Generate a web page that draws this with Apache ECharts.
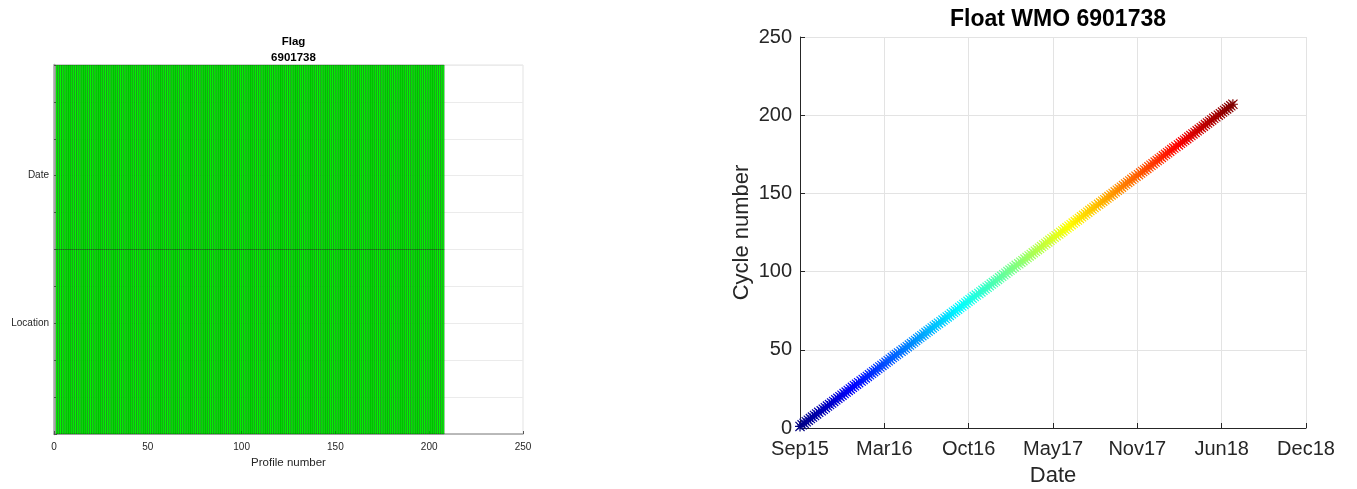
<!DOCTYPE html>
<html>
<head>
<meta charset="utf-8">
<script src="https://cdn.jsdelivr.net/npm/echarts@6/dist/echarts.min.js"></script>
<style>
  html, body { margin: 0; padding: 0; background: #ffffff; }
  #chart { width: 1357px; height: 489px; }
</style>
</head>
<body>
<div id="chart"></div>
<script>
// Float identifier
const floatWmo = '6901738';

// Cycle (profile) numbers of the float
const cycleNumbers = [
  1, 2, 3, 4, 5, 6, 7, 8, 9, 10, 11, 12, 13, 14, 15, 16, 17, 18, 19, 20,
  21, 22, 23, 24, 25, 26, 27, 28, 29, 30, 31, 32, 33, 34, 35, 36, 37, 38, 39, 40,
  41, 42, 43, 44, 45, 46, 47, 48, 49, 50, 51, 52, 53, 54, 55, 56, 57, 58, 59, 60,
  61, 62, 63, 64, 65, 66, 67, 68, 69, 70, 71, 72, 73, 74, 75, 76, 77, 78, 79, 80,
  81, 82, 83, 84, 85, 86, 87, 88, 89, 90, 91, 92, 93, 94, 95, 96, 97, 98, 99, 100,
  101, 102, 103, 104, 105, 106, 107, 108, 109, 110, 111, 112, 113, 114, 115, 116, 117, 118, 119, 120,
  121, 122, 123, 124, 125, 126, 127, 128, 129, 130, 131, 132, 133, 134, 135, 136, 137, 138, 139, 140,
  141, 142, 143, 144, 145, 146, 147, 148, 149, 150, 151, 152, 153, 154, 155, 156, 157, 158, 159, 160,
  161, 162, 163, 164, 165, 166, 167, 168, 169, 170, 171, 172, 173, 174, 175, 176, 177, 178, 179, 180,
  181, 182, 183, 184, 185, 186, 187, 188, 189, 190, 191, 192, 193, 194, 195, 196, 197, 198, 199, 200,
  201, 202, 203, 204, 205, 206, 207
];

// Profile dates, in days since 1 Sep 2015
const profileDays = [
  0, 5, 10, 15, 20, 25, 30, 35, 40, 45, 51, 56, 61, 66, 71, 76, 81, 86, 91, 96,
  101, 106, 111, 116, 121, 126, 131, 136, 141, 147, 152, 157, 162, 167, 172, 177, 182, 187, 192, 197,
  202, 207, 212, 217, 222, 227, 232, 237, 243, 248, 253, 258, 263, 268, 273, 278, 283, 288, 293, 298,
  303, 308, 313, 318, 323, 328, 333, 339, 344, 349, 354, 359, 364, 369, 374, 379, 384, 389, 394, 399,
  404, 409, 414, 419, 424, 430, 435, 440, 445, 450, 455, 460, 465, 470, 475, 480, 485, 490, 495, 500,
  505, 510, 515, 520, 526, 531, 536, 541, 546, 551, 556, 561, 566, 571, 576, 581, 586, 591, 596, 601,
  606, 611, 616, 622, 627, 632, 637, 642, 647, 652, 657, 662, 667, 672, 677, 682, 687, 692, 697, 702,
  707, 712, 718, 723, 728, 733, 738, 743, 748, 753, 758, 763, 768, 773, 778, 783, 788, 793, 798, 803,
  808, 814, 819, 824, 829, 834, 839, 844, 849, 854, 859, 864, 869, 874, 879, 884, 889, 894, 899, 904,
  910, 915, 920, 925, 930, 935, 940, 945, 950, 955, 960, 965, 970, 975, 980, 985, 990, 995, 1000, 1006,
  1011, 1016, 1021, 1026, 1031, 1036, 1041
];

// QC flags per profile (1 = good)
const dateFlags = [
  1,1,1,1,1,1,1,1,1,1,1,1,1,1,1,1,1,1,1,1, 1,1,1,1,1,1,1,1,1,1,1,1,1,1,1,1,1,1,1,1,
  1,1,1,1,1,1,1,1,1,1,1,1,1,1,1,1,1,1,1,1, 1,1,1,1,1,1,1,1,1,1,1,1,1,1,1,1,1,1,1,1,
  1,1,1,1,1,1,1,1,1,1,1,1,1,1,1,1,1,1,1,1, 1,1,1,1,1,1,1,1,1,1,1,1,1,1,1,1,1,1,1,1,
  1,1,1,1,1,1,1,1,1,1,1,1,1,1,1,1,1,1,1,1, 1,1,1,1,1,1,1,1,1,1,1,1,1,1,1,1,1,1,1,1,
  1,1,1,1,1,1,1,1,1,1,1,1,1,1,1,1,1,1,1,1, 1,1,1,1,1,1,1,1,1,1,1,1,1,1,1,1,1,1,1,1,
  1,1,1,1,1,1,1
];
const locationFlags = [
  1,1,1,1,1,1,1,1,1,1,1,1,1,1,1,1,1,1,1,1, 1,1,1,1,1,1,1,1,1,1,1,1,1,1,1,1,1,1,1,1,
  1,1,1,1,1,1,1,1,1,1,1,1,1,1,1,1,1,1,1,1, 1,1,1,1,1,1,1,1,1,1,1,1,1,1,1,1,1,1,1,1,
  1,1,1,1,1,1,1,1,1,1,1,1,1,1,1,1,1,1,1,1, 1,1,1,1,1,1,1,1,1,1,1,1,1,1,1,1,1,1,1,1,
  1,1,1,1,1,1,1,1,1,1,1,1,1,1,1,1,1,1,1,1, 1,1,1,1,1,1,1,1,1,1,1,1,1,1,1,1,1,1,1,1,
  1,1,1,1,1,1,1,1,1,1,1,1,1,1,1,1,1,1,1,1, 1,1,1,1,1,1,1,1,1,1,1,1,1,1,1,1,1,1,1,1,
  1,1,1,1,1,1,1
];

// Row names of the flag matrix and the date tick labels
const flagRowNames = ['Date', 'Location'];
const dateTickLabels = ['Sep15', 'Mar16', 'Oct16', 'May17', 'Nov17', 'Jun18', 'Dec18'];

// ---- scale / styling constants ----
const dateTickStep = 202.8;            // days between date ticks
const rowEdges = [0, 5, 10];           // flag-row extent on the row axis
const rowLabelPos = [3, 7];            // where the row names sit
const flagColors = { 1: '#00ff00', 2: '#ffff00', 3: '#ff8000', 4: '#ff0000' };
const jet = ['#000080', '#0000ff', '#0080ff', '#00ffff', '#80ff80',
             '#ffff00', '#ff8000', '#ff0000', '#800000'];
// MATLAB-style '*' marker: plus and cross overlaid
const asterisk = 'path://M8.8,0H11.2V20H8.8Z M0,8.8H20V11.2H0Z ' +
  'M0,1.7L1.7,0L20,18.3L18.3,20Z M18.3,0L20,1.7L1.7,20L0,18.3Z';
const FONT = "'Liberation Sans', Arial, Helvetica, sans-serif";
const INK = '#262626';

// Flag cells: one per profile and row
const flagCells = [];
cycleNumbers.forEach((c, i) => {
  flagCells.push([c, 0, dateFlags[i]]);
  flagCells.push([c, 1, locationFlags[i]]);
});

// Cycle number against date
const cyclePoints = cycleNumbers.map((c, i) => [profileDays[i], c]);

const chart = echarts.init(document.getElementById('chart'), null, { renderer: 'canvas' });

chart.setOption({
  animation: false,
  backgroundColor: '#ffffff',
  textStyle: { fontFamily: FONT },
  title: [
    {
      text: 'Flag\n' + floatWmo,
      left: 288.5, top: 29, textAlign: 'center',
      textStyle: { fontFamily: FONT, fontSize: 11.5, fontWeight: 'bold', color: '#000', lineHeight: 16 }
    },
    {
      text: 'Float WMO ' + floatWmo,
      left: 1053, top: 3, textAlign: 'center',
      textStyle: { fontFamily: FONT, fontSize: 23, fontWeight: 'bold', color: '#000' }
    }
  ],
  grid: [
    { left: 54, top: 65, width: 469, height: 369, outerBoundsMode: 'none', containLabel: false,
      show: true, borderColor: '#e3e3e3', borderWidth: 1 },
    { left: 800, top: 37, width: 506, height: 391, outerBoundsMode: 'none', containLabel: false }
  ],
  xAxis: [
    {
      gridIndex: 0, type: 'value', position: 'bottom', min: 0, max: 250, interval: 50,
      name: 'Profile number', nameLocation: 'middle', nameGap: 21,
      nameTextStyle: { fontFamily: FONT, fontSize: 11.5, color: INK },
      axisLine: { show: true, onZero: false, lineStyle: { color: '#a8a8a8', width: 1.5 } },
      axisTick: { show: true, inside: true, length: 3, lineStyle: { color: '#555' } },
      axisLabel: { fontFamily: FONT, fontSize: 10, color: INK, margin: 8 },
      splitLine: { show: false }
    },
    {
      gridIndex: 1, type: 'value', position: 'bottom', min: 0, max: dateTickStep * 6, interval: dateTickStep,
      name: 'Date', nameLocation: 'middle', nameGap: 37,
      nameTextStyle: { fontFamily: FONT, fontSize: 22, color: INK },
      axisLine: { show: true, onZero: false, lineStyle: { color: INK, width: 1 } },
      axisTick: { show: true, inside: true, length: 5, lineStyle: { color: INK } },
      axisLabel: {
        fontFamily: FONT, fontSize: 20, color: INK, margin: 11,
        formatter: v => dateTickLabels[Math.round(v / dateTickStep)] || ''
      },
      splitLine: { show: true, lineStyle: { color: '#e3e3e3', width: 1 } }
    }
  ],
  yAxis: [
    {
      gridIndex: 0, type: 'value', min: 0, max: 10, interval: 1, inverse: true,
      axisLine: { show: true, onZero: false, lineStyle: { color: '#a8a8a8', width: 2.5 } },
      axisTick: { show: true, inside: true, length: 3, lineStyle: { color: '#555' } },
      axisLabel: {
        fontFamily: FONT, fontSize: 10, color: INK, margin: 5,
        formatter: v => {
          const k = rowLabelPos.indexOf(v);
          return k >= 0 ? flagRowNames[k] : '';
        }
      },
      splitLine: { show: true, lineStyle: { color: '#ebebeb', width: 1 } }
    },
    {
      gridIndex: 1, type: 'value', min: 0, max: 250, interval: 50,
      name: 'Cycle number', nameLocation: 'middle', nameGap: 47, nameRotate: 90,
      nameTextStyle: { fontFamily: FONT, fontSize: 22, color: INK },
      axisLine: { show: true, onZero: false, lineStyle: { color: INK, width: 1 } },
      axisTick: { show: true, inside: true, length: 5, lineStyle: { color: INK } },
      axisLabel: { fontFamily: FONT, fontSize: 20, color: INK, margin: 8 },
      splitLine: { show: true, lineStyle: { color: '#e3e3e3', width: 1 } }
    }
  ],
  visualMap: {
    show: false, type: 'continuous', seriesIndex: 1, dimension: 1,
    min: cycleNumbers[0], max: cycleNumbers[cycleNumbers.length - 1],
    inRange: { color: jet }
  },
  series: [
    {
      type: 'custom', xAxisIndex: 0, yAxisIndex: 0, data: flagCells,
      renderItem: (params, api) => {
        const p = api.value(0), r = api.value(1), f = api.value(2);
        const a = api.coord([p, rowEdges[r]]);
        const b = api.coord([p + 1, rowEdges[r + 1]]);
        return {
          type: 'rect',
          shape: { x: a[0], y: Math.min(a[1], b[1]), width: b[0] - a[0], height: Math.abs(b[1] - a[1]) },
          style: { fill: flagColors[f] || '#00ff00', stroke: '#000', lineWidth: 0.3 }
        };
      }
    },
    {
      type: 'scatter', xAxisIndex: 1, yAxisIndex: 1, data: cyclePoints,
      symbol: asterisk, symbolSize: 10, itemStyle: { opacity: 1 }
    }
  ]
});
</script>
</body>
</html>
